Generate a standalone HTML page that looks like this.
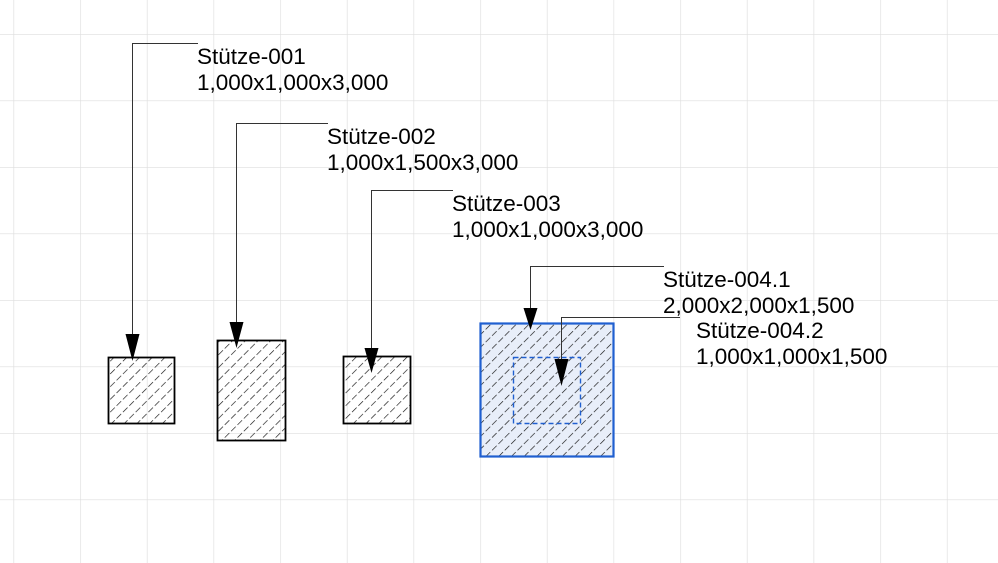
<!DOCTYPE html>
<html><head><meta charset="utf-8"><style>
html,body{margin:0;padding:0;background:#fff;}
svg{display:block;}
text{font-family:"Liberation Sans",sans-serif;font-size:22.5px;fill:#000;}
</style></head><body>
<svg width="998" height="563" viewBox="0 0 998 563" xmlns="http://www.w3.org/2000/svg">
<defs>
<pattern id="grid" x="13.5" y="34" width="66.67" height="66.5" patternUnits="userSpaceOnUse">
<path d="M0 0 V66.5 M0 0 H66.67" stroke="#dedede" stroke-width="1.3" fill="none"/>
</pattern>
<pattern id="hatch" width="9" height="9" patternUnits="userSpaceOnUse" patternTransform="rotate(45)">
<line x1="0" y1="0" x2="0" y2="9" stroke="#111" stroke-width="1.3" stroke-dasharray="6.5 2.5"/>
</pattern>
</defs>
<rect width="998" height="563" fill="url(#grid)"/>

<rect x="108.5" y="357.5" width="66" height="66" fill="url(#hatch)" stroke="#000" stroke-width="1.8"/>
<rect x="217.5" y="340.5" width="68" height="100" fill="url(#hatch)" stroke="#000" stroke-width="1.8"/>
<rect x="343.5" y="356.5" width="67" height="67" fill="url(#hatch)" stroke="#000" stroke-width="1.8"/>
<rect x="480.5" y="323.5" width="133" height="133" fill="#e8eef9"/>
<rect x="480.5" y="323.5" width="133" height="133" fill="url(#hatch)" stroke="#1f5fd0" stroke-width="2.2"/>
<rect x="513.5" y="357.5" width="67" height="66" fill="none" stroke="#1f5fd0" stroke-width="1.4" stroke-dasharray="5 3"/>

<g stroke="#333" stroke-width="1" fill="none">
<path d="M198 43.5 H132.5 V340"/>
<path d="M328 123.5 H236.5 V325"/>
<path d="M453 190.5 H371.5 V350"/>
<path d="M664 266.5 H530.5 V310"/>
<path d="M680 317.5 H561.5 V365"/>
</g>
<g fill="#000">
<polygon points="125.5,334 139.5,334 132.5,361"/>
<polygon points="229.5,322 243.5,322 236.5,348"/>
<polygon points="364.5,348 378.5,348 371.5,373"/>
<polygon points="523.5,308 537.5,308 530.5,330"/>
<polygon points="554.5,359 568.5,359 561.5,386"/>
</g>

<text x="197" y="64">Stütze-001</text>
<text x="197" y="90">1,000x1,000x3,000</text>
<text x="327" y="144">Stütze-002</text>
<text x="327" y="170">1,000x1,500x3,000</text>
<text x="452" y="211">Stütze-003</text>
<text x="452" y="237">1,000x1,000x3,000</text>
<text x="663" y="287">Stütze-004.1</text>
<text x="663" y="313">2,000x2,000x1,500</text>
<text x="696" y="338">Stütze-004.2</text>
<text x="696" y="364">1,000x1,000x1,500</text>
</svg>
</body></html>
